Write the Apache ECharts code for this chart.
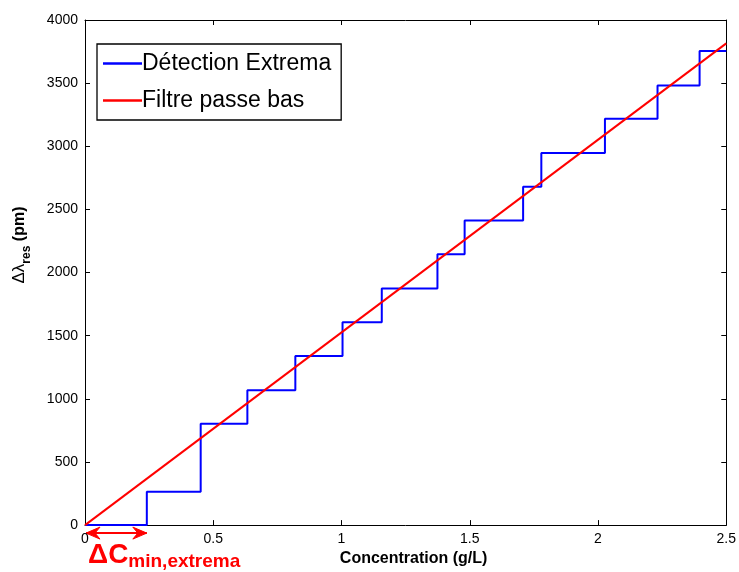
<!DOCTYPE html>
<html><head><meta charset="utf-8">
<script src="https://cdn.jsdelivr.net/npm/echarts@6/dist/echarts.min.js"></script>
<style>html,body{margin:0;padding:0;background:#fff}#c{width:739px;height:572px}</style>
</head><body><div id="c"></div>
<script>
// Step curve "Détection Extrema": x where each level starts, and level value
var stepX = [0, 0.241, 0.451, 0.633, 0.820, 1.004, 1.157, 1.374, 1.480, 1.708, 1.779, 2.027, 2.232, 2.396, 2.5];
var stepY = [0, 265, 803, 1067, 1339, 1606, 1874, 2144, 2412, 2680, 2947, 3218, 3482, 3754, 3754];
// Low-pass filter line "Filtre passe bas"
var lineX = [0, 2.5];
var lineY = [0, 3815];
var xTicks = [0, 0.5, 1, 1.5, 2, 2.5];
var yTicks = [0, 500, 1000, 1500, 2000, 2500, 3000, 3500, 4000];

var FONT = '"Liberation Sans", Arial, sans-serif';
var chart = echarts.init(document.getElementById('c'));
var stepData = stepX.map(function(x, i){ return [x, stepY[i]]; });
var lineData = lineX.map(function(x, i){ return [x, lineY[i]]; });
function fmtX(v){ return String(+(+v).toFixed(1)); }
function fmtY(v){ return String(Math.round(v)); }
var axisCommon = {
  axisLine: {show: true, onZero: false, lineStyle: {color: '#000', width: 1}},
  axisTick: {show: true, inside: true, length: 5, lineStyle: {color: '#000'}},
  splitLine: {show: false}
};
chart.setOption({
  animation: false,
  grid: {left: 85, right: 11, top: 20, bottom: 44, containLabel: false},
  xAxis: [
    Object.assign({type: 'value', min: 0, max: 2.5, interval: 0.5, position: 'bottom',
      name: 'Concentration (g/L)', nameLocation: 'middle', nameGap: 22,
      nameTextStyle: {fontFamily: FONT, fontSize: 16, fontWeight: 'bold', color: '#000', padding: [0, 0, 0, 16]},
      axisLabel: {fontFamily: FONT, fontSize: 14, color: '#000', margin: 7, formatter: fmtX}}, axisCommon),
    Object.assign({type: 'value', min: 0, max: 2.5, interval: 0.5, position: 'top',
      axisLabel: {show: false}}, axisCommon)
  ],
  yAxis: [
    Object.assign({type: 'value', min: 0, max: 4000, interval: 500, position: 'left',
      axisLabel: {fontFamily: FONT, fontSize: 14, color: '#000', margin: 7, formatter: fmtY}}, axisCommon),
    Object.assign({type: 'value', min: 0, max: 4000, interval: 500, position: 'right',
      axisLabel: {show: false}}, axisCommon)
  ],
  legend: {
    show: true, orient: 'vertical', left: 97, top: 44,
    backgroundColor: '#fff', borderColor: '#000', borderWidth: 1.3, borderRadius: 0,
    padding: [7, 10, 7, 6], itemGap: 12, itemWidth: 39, itemHeight: 2.5,
    icon: 'rect',
    textStyle: {fontFamily: FONT, fontSize: 23, color: '#000', padding: [0, 0, 0, -5], lineHeight: 25},
    data: ['Détection Extrema', 'Filtre passe bas']
  },
  series: [
    {name: 'Détection Extrema', type: 'line', step: 'end', data: stepData, symbol: 'none',
     lineStyle: {color: '#0000ff', width: 2}, itemStyle: {color: '#0000ff'}, z: 3},
    {name: 'Filtre passe bas', type: 'line', data: lineData, symbol: 'none',
     lineStyle: {color: '#ff0000', width: 2}, itemStyle: {color: '#ff0000'}, z: 4}
  ]
});
// Annotations positioned from the axes
var p0 = chart.convertToPixel({xAxisIndex: 0, yAxisIndex: 0}, [0, 0]);
var p1 = chart.convertToPixel({xAxisIndex: 0, yAxisIndex: 0}, [stepX[1], 0]);
var ay = p0[1] + 8;
var red = '#ff0000';
chart.setOption({graphic: [
  {type: 'text', x: 22, y: 245, rotation: Math.PI / 2, style: {
    text: '{a|Δλ}{s|res}{b| (pm)}', align: 'center', verticalAlign: 'middle',
    rich: {
      a: {fontFamily: FONT, fontSize: 17, fill: '#000', verticalAlign: 'bottom', padding: [0, 0, 5, 0]},
      s: {fontFamily: FONT, fontSize: 12, fontWeight: 'bold', fill: '#000', verticalAlign: 'bottom'},
      b: {fontFamily: FONT, fontSize: 16, fontWeight: 'bold', fill: '#000', verticalAlign: 'bottom', padding: [0, 0, 5, 0]}
    }}},
  {type: 'line', shape: {x1: p0[0] + 1, y1: ay, x2: p1[0], y2: ay}, style: {stroke: red, lineWidth: 2}},
  {type: 'polygon', shape: {points: [[p0[0] + 1, ay], [p0[0] + 15, ay - 6], [p0[0] + 10, ay], [p0[0] + 15, ay + 6]]}, style: {fill: red, stroke: red, lineWidth: 1}},
  {type: 'polygon', shape: {points: [[p1[0], ay], [p1[0] - 14, ay - 6], [p1[0] - 9, ay], [p1[0] - 14, ay + 6]]}, style: {fill: red, stroke: red, lineWidth: 1}},
  {type: 'text', left: p0[0] + 3, top: ay + 8, style: {
    text: '{a|ΔC}{s|min,extrema}', fill: red,
    rich: {
      a: {fontFamily: FONT, fontSize: 28, fontWeight: 'bold', fill: red, verticalAlign: 'bottom'},
      s: {fontFamily: FONT, fontSize: 19, fontWeight: 'bold', fill: red, verticalAlign: 'bottom', padding: [0, 0, -2, 0]}
    }}}
]});
</script></body></html>
